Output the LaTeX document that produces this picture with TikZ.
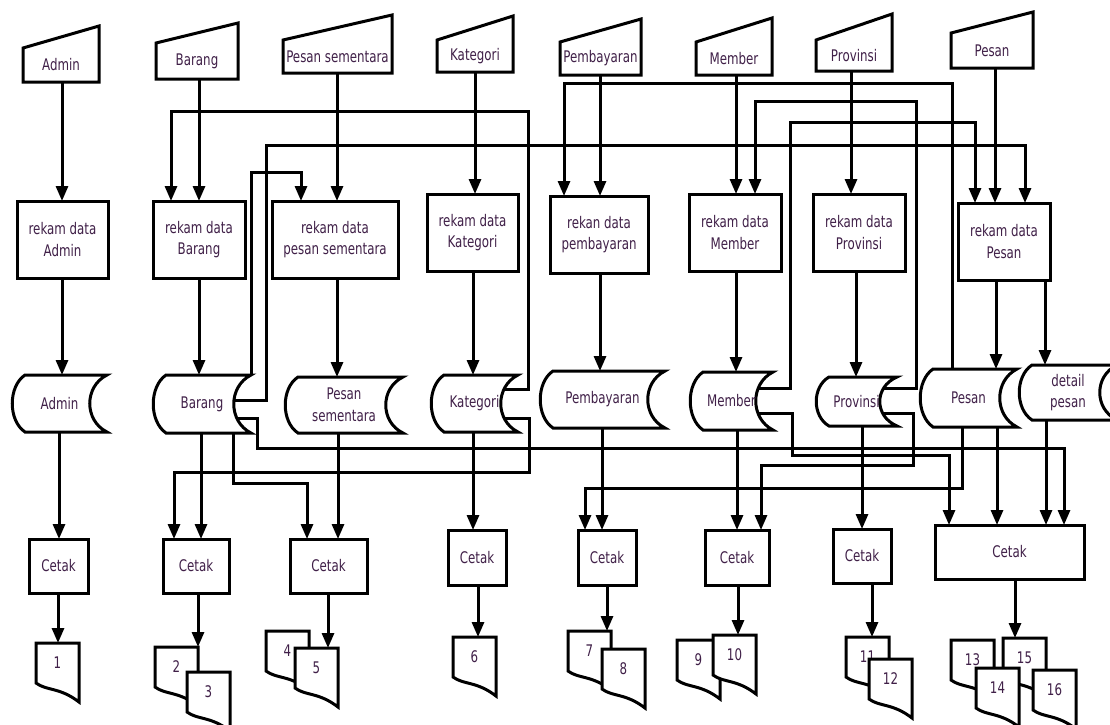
\documentclass[tikz,border=0pt]{standalone}
\usepackage{fontspec}
\setmainfont{DejaVu Sans}[FakeStretch=0.74]
\usetikzlibrary{arrows.meta}
\pgfdeclarelayer{back}
\pgfdeclarelayer{bg}
\pgfsetlayers{back,bg,main}
\definecolor{txt}{RGB}{64,32,72}
\tikzset{
  shp/.style={line width=3pt, line join=miter, fill=white},
  lbl/.style={inner sep=0pt, outer sep=0pt, text=txt, font=\fontsize{16}{21.5}\selectfont, align=center},
  boxnode/.style={lbl, draw, line width=3pt, fill=white},
  arr/.style={line width=3pt, -{Triangle[length=15pt,width=12pt]}},
}
% name, L, R, top-left y, top-right y, bottom y, text
\newcommand{\InShape}[7]{%
  \draw[shp] (#2,#6) -- (#3,#6) -- (#3,#5) -- (#2,#4) -- cycle;
  \node[lbl, minimum width={#3-#2}, minimum height={#6-#4}] (#1) at ({(#2+#3)/2},{(#4+#6)/2}) {#7};
}
% name, L, R, T, B, text
\newcommand{\Store}[6]{%
  \draw[shp] ({#2+13},#4) -- (#3,#4)
    .. controls ({#3-23},{#4+0.2*(#5-#4)}) and ({#3-23},{#5-0.2*(#5-#4)}) .. (#3,#5)
    -- ({#2+13},#5)
    .. controls ({#2-4},{#5-0.2*(#5-#4)}) and ({#2-4},{#4+0.2*(#5-#4)}) .. ({#2+13},#4) -- cycle;
  \node[lbl, minimum width={#3-#2}, minimum height={#5-#4}] (#1) at ({(#2+#3)/2},{(#4+#5)/2}) {#6};
}
% name, L, T, text
\newcommand{\Doc}[4]{%
  \draw[shp] (#2,{#3+40}) -- (#2,#3) -- ({#2+43},#3) -- ({#2+43},{#3+59})
    .. controls ({#2+23.6},{#3+44}) and ({#2+10.75},{#3+48}) .. (#2,{#3+40}) -- cycle;
  \node[lbl, minimum width=43, minimum height=40] (#1) at ({#2+21.5},{#3+20}) {#4};
}
\begin{document}
\begin{tikzpicture}[x=1pt,y=-1pt]
\useasboundingbox (0,0) rectangle (1110,724);
\begin{pgfonlayer}{back}
  \fill[white] (0,0) rectangle (1110,724);
\end{pgfonlayer}

% ---- manual inputs
\InShape{inAdm}{23}{99}{48}{26}{82}{Admin}
\InShape{inBar}{156}{238}{43}{23}{79}{Barang}
\InShape{inPS}{283}{392}{40}{15}{73}{Pesan sementara}
\InShape{inKat}{437}{513}{40}{16}{72}{Kategori}
\InShape{inPem}{560}{641}{42}{19}{75}{Pembayaran}
\InShape{inMem}{696}{772}{42}{18}{75}{Member}
\InShape{inProv}{816}{892}{40}{14}{71}{Provinsi}
\InShape{inPes}{951}{1033}{33}{12}{68}{Pesan}

% ---- processes
\node[boxnode, minimum width=91, minimum height=77] (rkAdm) at (62.5,239.5) {rekam data\\Admin};
\node[boxnode, minimum width=92, minimum height=77] (rkBar) at (199,239.5) {rekam data\\Barang};
\node[boxnode, minimum width=126, minimum height=77] (rkPS) at (335,239.5) {rekam data\\pesan sementara};
\node[boxnode, minimum width=91, minimum height=77] (rkKat) at (472.5,232.5) {rekam data\\Kategori};
\node[boxnode, minimum width=98, minimum height=77] (rkPem) at (599,234.5) {rekan data\\pembayaran};
\node[boxnode, minimum width=92, minimum height=77] (rkMem) at (735,232.5) {rekam data\\Member};
\node[boxnode, minimum width=92, minimum height=77] (rkProv) at (859,232.5) {rekam data\\Provinsi};
\node[boxnode, minimum width=92, minimum height=77] (rkPes) at (1004,241.5) {rekam data\\Pesan};

% ---- stored data
\Store{stAdm}{12}{107}{375}{432}{Admin}
\Store{stBar}{153}{251}{375}{433}{Barang}
\Store{stPS}{285}{403}{377}{433}{Pesan\\sementara}
\Store{stKat}{431}{518}{375}{432}{Kategori}
\Store{stPem}{540}{665}{371}{428}{Pembayaran}
\Store{stMem}{690}{773}{372}{430}{Member}
\Store{stProv}{816}{897}{377}{426}{Provinsi}
\Store{stPes}{920}{1017}{369}{427}{Pesan}
\Store{stDet}{1019}{1117}{365}{420}{detail\\pesan}

% ---- print processes
\node[boxnode, minimum width=59, minimum height=54] (ctAdm) at (58.5,566) {Cetak};
\node[boxnode, minimum width=66, minimum height=54] (ctBar) at (196,566) {Cetak};
\node[boxnode, minimum width=77, minimum height=54] (ctPS) at (328.5,566) {Cetak};
\node[boxnode, minimum width=58, minimum height=55] (ctKat) at (477,557.5) {Cetak};
\node[boxnode, minimum width=58, minimum height=55] (ctPem) at (607,557.5) {Cetak};
\node[boxnode, minimum width=64, minimum height=55] (ctMem) at (737,557.5) {Cetak};
\node[boxnode, minimum width=58, minimum height=54] (ctProv) at (862,556) {Cetak};
\node[boxnode, minimum width=149, minimum height=54] (ctPes) at (1009.5,552) {Cetak};

% ---- documents
\Doc{d1}{36}{643}{1}
\Doc{d2}{155}{647}{2}
\Doc{d3}{187}{672}{3}
\Doc{d4}{266}{631}{4}
\Doc{d5}{295}{648}{5}
\Doc{d6}{453}{637}{6}
\Doc{d7}{568}{631}{7}
\Doc{d8}{602}{649}{8}
\Doc{d9}{677}{640}{9}
\Doc{d10}{713}{635}{10}
\Doc{d11}{846}{637}{11}
\Doc{d12}{869}{659}{12}
\Doc{d13}{951}{640}{13}
\Doc{d15}{1003}{638}{15}
\Doc{d14}{976}{668}{14}
\Doc{d16}{1033}{670}{16}

\begin{pgfonlayer}{bg}
% Admin
\draw[arr] (inAdm.south -| 62,0) -- (rkAdm.north -| 62,0);
\draw[arr] (rkAdm.south -| 62,0) -- (stAdm.north -| 62,0);
\draw[arr] (stAdm.south -| 59,0) -- (ctAdm.north -| 59,0);
\draw[arr] (ctAdm.south -| 58,0) -- (d1.north -| 58,0);
% Barang
\draw[arr] (inBar.south -| 199,0) -- (rkBar.north -| 199,0);
\draw[arr] (rkBar.south -| 199,0) -- (stBar.north -| 199,0);
\draw[arr] (stBar.south -| 201,0) -- (ctBar.north -| 201,0);
\draw[arr] (ctBar.south -| 198,0) -- (d2.north -| 198,0);
% Pesan sementara
\draw[arr] (inPS.south -| 337,0) -- (rkPS.north -| 337,0);
\draw[arr] (rkPS.south -| 337,0) -- (stPS.north -| 337,0);
\draw[arr] (stPS.south -| 338,0) -- (ctPS.north -| 338,0);
\draw[arr] (ctPS.south -| 328,0) -- (d5.north -| 328,0);
% Kategori
\draw[arr] (inKat.south -| 475,0) -- (rkKat.north -| 475,0);
\draw[arr] (rkKat.south -| 473,0) -- (stKat.north -| 473,0);
\draw[arr] (stKat.south -| 473,0) -- (ctKat.north -| 473,0);
\draw[arr] (ctKat.south -| 478,0) -- (d6.north -| 478,0);
% Pembayaran
\draw[arr] (inPem.south -| 600,0) -- (rkPem.north -| 600,0);
\draw[arr] (rkPem.south -| 600,0) -- (stPem.north -| 600,0);
\draw[arr] (stPem.south -| 602,0) -- (ctPem.north -| 602,0);
\draw[arr] (ctPem.south -| 607,0) -- (d7.north -| 607,0);
% Member
\draw[arr] (inMem.south -| 736,0) -- (rkMem.north -| 736,0);
\draw[arr] (rkMem.south -| 736,0) -- (stMem.north -| 736,0);
\draw[arr] (stMem.south -| 737,0) -- (ctMem.north -| 737,0);
\draw[arr] (ctMem.south -| 738,0) -- (d10.north -| 738,0);
% Provinsi
\draw[arr] (inProv.south -| 851,0) -- (rkProv.north -| 851,0);
\draw[arr] (rkProv.south -| 856,0) -- (stProv.north -| 856,0);
\draw[arr] (stProv.south -| 862,0) -- (ctProv.north -| 862,0);
\draw[arr] (ctProv.south -| 872,0) -- (d11.north -| 872,0);
% Pesan
\draw[arr] (inPes.south -| 995,0) -- (rkPes.north -| 995,0);
\draw[arr] (rkPes.south -| 996,0) -- (stPes.north -| 996,0);
\draw[arr] (rkPes.south -| 1045,0) -- (stDet.north -| 1045,0);
\draw[arr] (stPes.south -| 997,0) -- (ctPes.north -| 997,0);
\draw[arr] (stDet.south -| 1046,0) -- (ctPes.north -| 1046,0);
\draw[arr] (ctPes.south -| 1015,0) -- (d15.north -| 1015,0);

% cross links
\draw[arr] ([shift={(-18,-14.5)}]stKat.east) -| (528,111) -| (rkBar.north -| 171,0);
\draw[arr] ([shift={(-18,14.5)}]stKat.east) -| (529,472) -| (ctBar.north -| 174,0);
\draw[arr] ([shift={(-18,-4)}]stBar.east) -| (266,145) -| (rkPes.north -| 1025,0);
\draw[arr] (stBar.north east) -- (251,172) -| (rkPS.north -| 301,0);
\draw[arr] ([shift={(-18,14)}]stBar.east) -| (257,448) -| (ctPes.north -| 1064,0);
\draw[arr] (stBar.south -| 233,0) |- (307,483) -- (ctPS.north -| 307,0);
\draw[arr] ([shift={(-18,-13)}]stMem.east) -| (790,122) -| (rkPes.north -| 975,0);
\draw[arr] ([shift={(-18,12)}]stMem.east) -| (792,455) -| (ctPes.north -| 949,0);
\draw[arr] ([shift={(-18,-13.5)}]stProv.east) -| (916,101) -| (rkMem.north -| 755,0);
\draw[arr] ([shift={(-18,11.5)}]stProv.east) -| (913,465) -| (ctMem.north -| 761,0);
\draw[arr] (stPes.north -| 952,0) |- (564,83) -- (rkPem.north -| 564,0);
\draw[arr] (stPes.south -| 962,0) |- (585,488) -- (ctPem.north -| 585,0);
\end{pgfonlayer}
\end{tikzpicture}
\end{document}
